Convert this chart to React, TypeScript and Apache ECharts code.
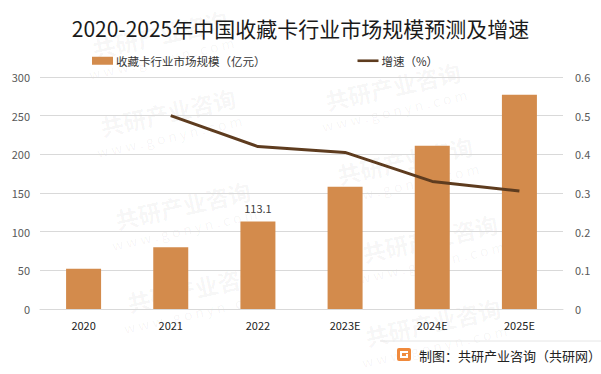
import React, { useEffect, useRef } from "react";
import * as echarts from "echarts";

const categories = ["2020", "2021", "2022", "2023E", "2024E", "2025E"];
const marketSize = [52, 80, 113.1, 158, 211, 277];
const growth = [null, 0.5, 0.42, 0.405, 0.33, 0.305];

const FONT = "'Noto Sans CJK SC', 'Noto Sans', sans-serif";

const watermarkSpots = [
  [160, 34], [168, 112], [183, 205], [195, 288],
  [393, 86], [405, 160], [430, 238], [433, 322],
];

export default function App() {
  const ref = useRef<HTMLDivElement>(null);
  useEffect(() => {
    if (!ref.current) return;
    const chart = echarts.init(ref.current, null, { renderer: "svg" });
    const wm = watermarkSpots.map(([x, y]) => ({
      type: "group",
      x,
      y,
      rotation: 0.22,
      silent: true,
      children: [
        {
          type: "text",
          x: 0,
          y: 0,
          style: {
            text: "共研产业咨询",
            fill: "rgba(0,0,0,0.045)",
            font: "bold 23px " + FONT,
            align: "center",
            verticalAlign: "middle",
          },
        },
        {
          type: "text",
          x: -4,
          y: 24,
          style: {
            text: "w w w . g o n y n . c o m",
            fill: "rgba(0,0,0,0.045)",
            font: "14px " + FONT,
            align: "center",
            verticalAlign: "middle",
          },
        },
      ],
    }));
    chart.setOption({
      animation: false,
      backgroundColor: "#ffffff",
      title: {
        text: "2020-2025年中国收藏卡行业市场规模预测及增速",
        left: "center",
        top: 12,
        textStyle: { fontFamily: FONT, fontSize: 21, fontWeight: "normal", color: "#1a1a1a" },
      },
      legend: {
        top: 50,
        left: 87,
        itemGap: 92,
        itemWidth: 21,
        itemHeight: 8,
        textStyle: { fontFamily: FONT, fontSize: 11.5, color: "#333", padding: [0, 0, 0, -2] },
        data: [
          { name: "收藏卡行业市场规模（亿元）", icon: "rect" },
          { name: "增速（%）", icon: "path://M0 3L24 3L24 6L0 6Z" },
        ],
      },
      grid: { left: 40, right: 38, top: 77, bottom: 65 },
      xAxis: {
        type: "category",
        data: categories,
        axisTick: { show: false },
        axisLine: { lineStyle: { color: "#d9d9d9" } },
        axisLabel: { fontFamily: FONT, fontSize: 11, color: "#222", margin: 10 },
      },
      yAxis: [
        {
          type: "value",
          min: 0,
          max: 300,
          interval: 50,
          axisLabel: { fontFamily: FONT, fontSize: 11, color: "#595959", margin: 10 },
          splitLine: { lineStyle: { color: "#d9d9d9" } },
          axisLine: { show: false },
          axisTick: { show: false },
        },
        {
          type: "value",
          min: 0,
          max: 0.6,
          interval: 0.1,
          axisLabel: { fontFamily: FONT, fontSize: 11, color: "#595959", margin: 12 },
          splitLine: { show: false },
          axisLine: { show: false },
          axisTick: { show: false },
        },
      ],
      series: [
        {
          name: "收藏卡行业市场规模（亿元）",
          type: "bar",
          data: marketSize.map((v, i) =>
            i === 2
              ? { value: v, label: { show: true, position: "top", distance: 8, fontFamily: FONT, fontSize: 11, color: "#404040" } }
              : v
          ),
          barWidth: 35,
          itemStyle: { color: "#d38b4c" },
        },
        {
          name: "增速（%）",
          type: "line",
          yAxisIndex: 1,
          data: growth,
          symbol: "none",
          lineStyle: { color: "#5e3c1f", width: 3 },
          itemStyle: { color: "#5e3c1f" },
        },
      ],
      graphic: [
        ...wm,
        {
          type: "line",
          shape: { x1: 380, y1: 341, x2: 601, y2: 341 },
          style: { stroke: "#e6e6e6", lineWidth: 1 },
        },
        {
          type: "rect",
          shape: { x: 397, y: 348, width: 14, height: 13, r: 2 },
          style: { fill: "#f08a3c" },
        },
        { type: "rect", shape: { x: 400, y: 351, width: 8, height: 2 }, style: { fill: "#fff" } },
        { type: "rect", shape: { x: 400, y: 351, width: 2, height: 7 }, style: { fill: "#fff" } },
        { type: "rect", shape: { x: 400, y: 356, width: 8, height: 2 }, style: { fill: "#fff" } },
        { type: "rect", shape: { x: 406, y: 354, width: 2, height: 4 }, style: { fill: "#fff" } },
        {
          type: "text",
          x: 419,
          y: 355,
          style: {
            text: "制图：共研产业咨询（共研网）",
            font: "13px " + FONT,
            fill: "#222",
            verticalAlign: "middle",
          },
        },
      ],
    });
    return () => chart.dispose();
  }, []);
  return <div ref={ref} style={{ width: 601, height: 374, position: "absolute", left: 0, top: 0 }} />;
}
